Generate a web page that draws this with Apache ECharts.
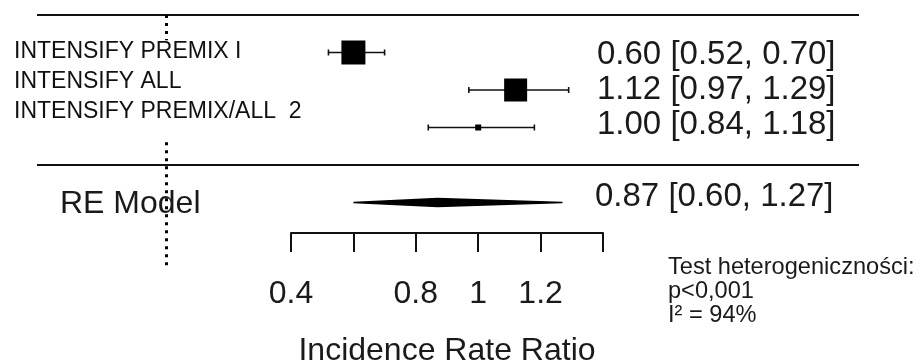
<!DOCTYPE html>
<html>
<head>
<meta charset="utf-8">
<script src="https://cdn.jsdelivr.net/npm/echarts@6/dist/echarts.min.js"></script>
<style>
  html, body { margin: 0; padding: 0; background: #fff; }
  #chart { width: 922px; height: 364px; }
</style>
</head>
<body>
<div id="chart"></div>
<script>
// ---- data ----
const studies = ['INTENSIFY PREMIX I', 'INTENSIFY ALL', 'INTENSIFY PREMIX/ALL  2'];
const estimates = [0.60, 1.12, 1.00];
const lowers = [0.52, 0.97, 0.84];
const uppers = [0.70, 1.29, 1.18];
const weights = [34.6, 34.4, 31.0];
const reLabel = 'RE Model';
const reEstimate = 0.87;
const reLower = 0.60;
const reUpper = 1.27;
const tickValues = [0.4, 0.6, 0.8, 1.0, 1.2, 1.4];
const tickLabels = ['0.4', '', '0.8', '1', '1.2', ''];
const axisTitle = 'Incidence Rate Ratio';
const hetText = ['Test heterogeniczności:', 'p<0,001', 'I² = 94%'];
const refValue = 0;

// ---- layout ----
const FONT = "'Liberation Sans', Arial, Helvetica, sans-serif";
const INK = '#111';
const TXT = '#1a1a1a';
const reRow = 5;
const wMin = Math.min(...weights), wMax = Math.max(...weights);
function sizeFor(w) { return 6 + (w - wMin) / (wMax - wMin) * 18; }
function fmt(e, l, u) { return e.toFixed(2) + ' [' + l.toFixed(2) + ', ' + u.toFixed(2) + ']'; }

const studyData = studies.map((s, i) => [estimates[i], lowers[i], uppers[i], i + 1, weights[i]]);

const chart = echarts.init(document.getElementById('chart'), null, { renderer: 'canvas' });

function renderStudy(params, api) {
  const i = params.dataIndex;
  const est = api.value(0), lo = api.value(1), hi = api.value(2), row = api.value(3), w = api.value(4);
  const pE = api.coord([est, row]);
  const pL = api.coord([lo, row]);
  const pH = api.coord([hi, row]);
  const y = pE[1];
  const s = sizeFor(w);
  const firstRowY = api.coord([0, 1])[1];
  const labelY = firstRowY - 0.5 + i * 30;
  const valueY = firstRowY + 2 + i * 35;
  return {
    type: 'group',
    children: [
      { type: 'line', shape: { x1: pL[0], y1: y, x2: pH[0], y2: y }, style: { stroke: INK, lineWidth: 1.6 } },
      { type: 'line', shape: { x1: pL[0], y1: y - 3, x2: pL[0], y2: y + 3 }, style: { stroke: INK, lineWidth: 1.6 } },
      { type: 'line', shape: { x1: pH[0], y1: y - 3, x2: pH[0], y2: y + 3 }, style: { stroke: INK, lineWidth: 1.6 } },
      { type: 'rect', shape: { x: pE[0] - s / 2, y: y - s / 2, width: s, height: s }, style: { fill: '#000' } },
      { type: 'text', x: 12, y: labelY, z2: 10,
        style: { text: studies[i], fill: '#111', fontSize: 23, fontFamily: FONT, align: 'left', verticalAlign: 'middle',
                 backgroundColor: '#fff', padding: [3, 2, 4, 2] } },
      { type: 'text', x: 597, y: valueY,
        style: { text: fmt(est, lo, hi), fill: TXT, fontSize: 33, fontFamily: FONT, align: 'left', verticalAlign: 'middle' } }
    ]
  };
}

function renderRE(params, api) {
  const pE = api.coord([api.value(0), api.value(3)]);
  const pL = api.coord([api.value(1), api.value(3)]);
  const pH = api.coord([api.value(2), api.value(3)]);
  const y = pE[1];
  return {
    type: 'group',
    children: [
      { type: 'polygon', shape: { points: [[pL[0], y], [pE[0], y - 4], [pH[0], y], [pE[0], y + 4]] },
        style: { fill: '#000', stroke: '#000', lineWidth: 1.4 } },
      { type: 'text', x: 60, y: y + 1.5, z2: 1,
        style: { text: reLabel, fill: TXT, fontSize: 32, fontFamily: FONT, align: 'left', verticalAlign: 'middle' } },
      { type: 'text', x: 595, y: y - 5.5,
        style: { text: fmt(reEstimate, reLower, reUpper), fill: TXT, fontSize: 33, fontFamily: FONT, align: 'left', verticalAlign: 'middle' } }
    ]
  };
}

const xMin = -0.4141, xMax = 2.2205;

const option = {
  animation: false,
  backgroundColor: '#fff',
  grid: [
    { left: 37, width: 822, top: 15, height: 262.5, outerBoundsMode: 'none', containLabel: false },
    { left: 291, width: 312, top: 180, height: 53, outerBoundsMode: 'none', containLabel: false }
  ],
  xAxis: [
    { type: 'value', gridIndex: 0, min: xMin, max: xMax, show: false },
    { type: 'value', gridIndex: 1, min: 0.4, max: 1.4, interval: 0.2, position: 'bottom',
      axisLine: { show: true, onZero: false, lineStyle: { color: INK, width: 2 } },
      axisTick: { show: true, inside: false, length: 19, lineStyle: { color: INK, width: 2 } },
      splitLine: { show: false },
      axisLabel: { show: true, margin: 45, color: TXT, fontSize: 32, fontFamily: FONT, hideOverlap: false,
        showMinLabel: true, showMaxLabel: true,
        formatter: function (v) {
          const idx = tickValues.findIndex(t => Math.abs(t - v) < 1e-6);
          return idx >= 0 ? tickLabels[idx] : '';
        } },
      name: axisTitle, nameLocation: 'middle', nameGap: 102,
      nameTextStyle: { color: TXT, fontSize: 32, fontFamily: FONT }
    }
  ],
  yAxis: [
    { type: 'value', gridIndex: 0, min: 0, max: 7, inverse: true, show: false },
    { type: 'value', gridIndex: 1, min: 0, max: 1, show: false }
  ],
  graphic: hetText.map((t, i) => ({
    type: 'text', left: 668, top: 255 + i * 24,
    style: { text: t, fill: TXT, fontSize: 23.6, fontFamily: FONT }
  })),
  series: [
    { type: 'lines', coordinateSystem: 'cartesian2d', xAxisIndex: 0, yAxisIndex: 0, z: 1,
      lineStyle: { color: INK, width: 2, opacity: 1 },
      data: [ { coords: [[xMin, 0], [xMax, 0]] }, { coords: [[xMin, 4], [xMax, 4]] } ] },
    { type: 'lines', coordinateSystem: 'cartesian2d', xAxisIndex: 0, yAxisIndex: 0, z: 3,
      lineStyle: { color: '#000', width: 3, type: [3, 5], opacity: 1, cap: 'butt' },
      data: [ { coords: [[refValue, 0], [refValue, 0.67]] }, { coords: [[refValue, 3.39], [refValue, 6.72]] } ] },
    { type: 'custom', xAxisIndex: 0, yAxisIndex: 0, z: 2, renderItem: renderStudy, data: studyData },
    { type: 'custom', xAxisIndex: 0, yAxisIndex: 0, z: 2, renderItem: renderRE,
      data: [[reEstimate, reLower, reUpper, reRow]] }
  ]
};
chart.setOption(option);
</script>
</body>
</html>
